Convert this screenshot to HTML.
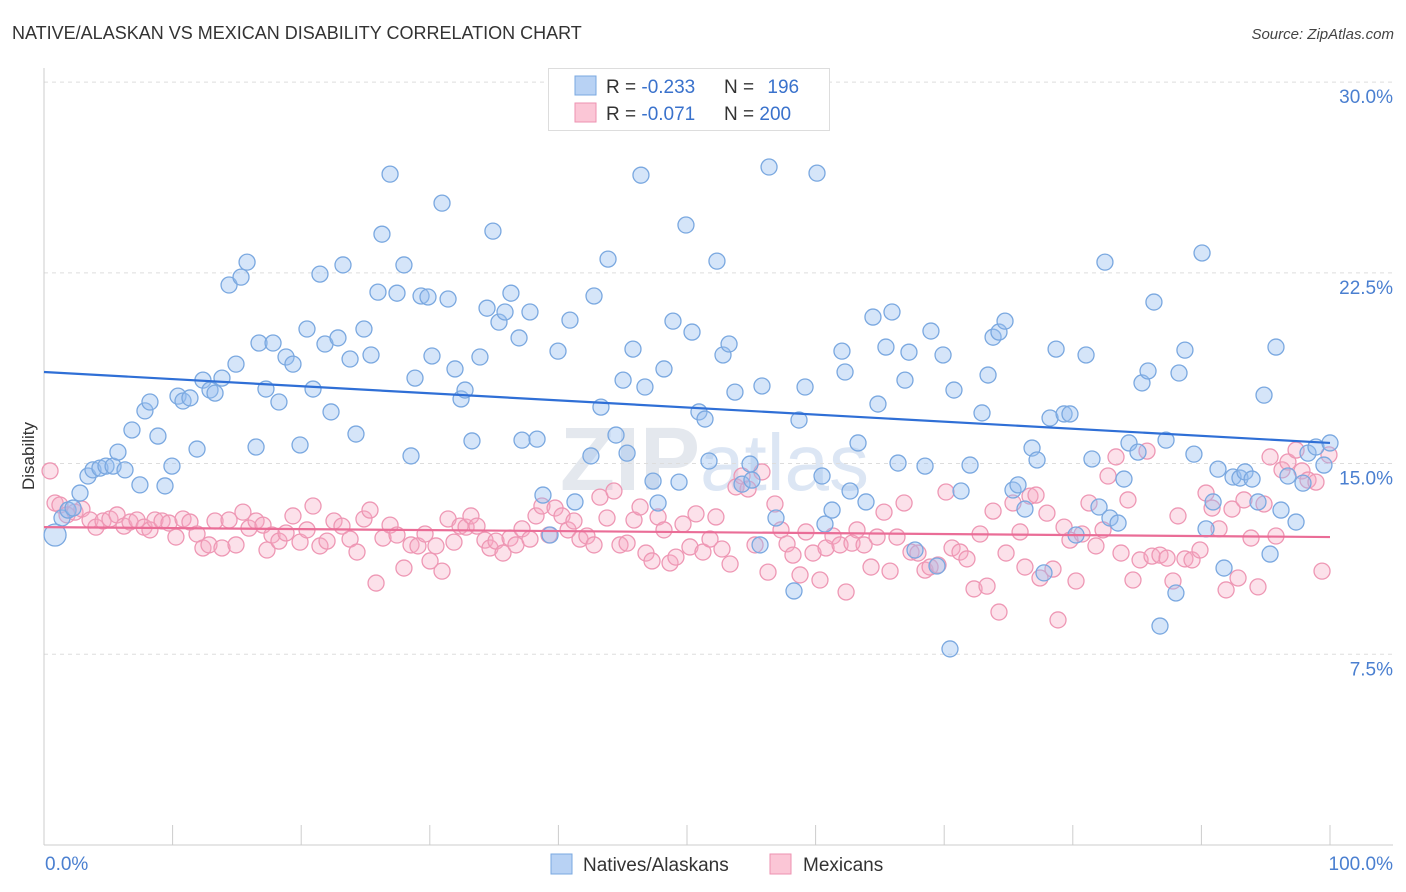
<!DOCTYPE html>
<html><head><meta charset="utf-8"><style>
body{margin:0;background:#fff;font-family:"Liberation Sans",sans-serif;}
svg{display:block}
</style></head><body>
<svg id="chart" width="1406" height="892" font-family="Liberation Sans, sans-serif">
<text x="12" y="39" font-size="18" fill="#333">NATIVE/ALASKAN VS MEXICAN DISABILITY CORRELATION CHART</text>
<text x="1394" y="39" font-size="15" fill="#444" font-style="italic" text-anchor="end">Source: ZipAtlas.com</text>
<text x="560" y="490" font-size="90" fill="#e4e8ee" font-weight="bold">ZIP<tspan fill="#dce6f4" font-weight="normal" font-size="80">atlas</tspan></text>
<g id="grid"></g>
<g id="axes"></g>
<g id="pts"></g>
<g id="trend"></g>
<text transform="translate(34,456) rotate(-90)" font-size="17" fill="#333" text-anchor="middle">Disability</text>
<g>
<rect x="548.5" y="68.5" width="281" height="62" fill="#fff" stroke="#ddd"/>
<rect x="575" y="76" width="21" height="19" fill="#b8d2f4" stroke="#7aa8e0"/>
<rect x="575" y="103" width="21" height="19" fill="#fbc6d6" stroke="#ee92b0"/>
<text x="606" y="93" font-size="19" fill="#333">R = <tspan fill="#3a72cc">-0.233</tspan></text>
<text x="724" y="93" font-size="19" fill="#333">N = <tspan fill="#3a72cc" dx="8">196</tspan></text>
<text x="606" y="120" font-size="19" fill="#333">R = <tspan fill="#3a72cc">-0.071</tspan></text>
<text x="724" y="120" font-size="19" fill="#333">N = <tspan fill="#3a72cc">200</tspan></text>
</g>
<g>
<rect x="551" y="854" width="21" height="20" fill="#b8d2f4" stroke="#7aa8e0"/>
<text x="583" y="871" font-size="19" fill="#333">Natives/Alaskans</text>
<rect x="770" y="854" width="21" height="20" fill="#fbc6d6" stroke="#ee92b0"/>
<text x="803" y="871" font-size="19" fill="#333">Mexicans</text>
</g>
</svg>
<script>
const yTicks=[7.5,15,22.5,30];
const yTickLabels=["7.5%","15.0%","22.5%","30.0%"];
const xTicks=[0,10,20,30,40,50,60,70,80,90,100];
const blueX=[0.86,1.40,1.87,2.26,2.80,3.42,3.81,4.35,4.82,5.37,5.75,6.30,6.84,7.46,7.85,8.24,8.86,9.41,9.95,10.42,10.81,11.35,11.90,12.36,12.91,13.30,13.84,14.39,14.93,15.32,15.79,16.49,16.72,17.26,17.81,18.27,18.82,19.36,19.91,20.45,20.92,21.46,21.85,22.32,22.86,23.25,23.80,24.26,24.88,25.43,25.97,26.28,26.91,27.45,27.99,28.54,28.85,29.32,29.86,30.17,30.95,31.42,31.96,32.43,32.74,33.28,33.90,34.45,34.91,35.38,35.85,36.31,36.94,37.17,37.79,38.34,38.80,39.35,39.97,40.90,41.29,42.53,42.77,43.31,43.86,44.48,45.03,45.34,45.80,46.42,46.73,47.36,47.75,48.21,48.91,49.38,49.92,50.39,50.93,51.40,51.71,52.33,52.80,53.27,53.73,54.28,54.90,55.05,55.68,55.83,56.38,56.92,58.32,58.71,59.18,60.11,60.50,60.73,61.28,62.05,62.29,62.68,63.30,63.92,64.46,64.85,65.47,65.94,66.41,66.95,67.26,67.73,68.51,68.97,69.44,69.91,70.45,70.76,71.31,72.01,72.94,73.41,73.80,74.26,74.73,75.35,75.74,76.28,76.83,77.22,77.76,78.23,78.70,79.32,79.78,80.25,81.03,81.49,82.04,82.50,82.89,83.52,83.98,84.37,85.07,85.38,85.85,86.31,86.78,87.25,88.02,88.26,88.72,89.42,90.05,90.36,90.91,91.29,91.76,92.46,93.00,93.39,93.94,94.40,94.87,95.34,95.80,96.19,96.73,97.36,97.90,98.29,98.91,99.53,100.0];
const blueY=[12.19,12.86,13.17,13.25,13.84,14.51,14.75,14.82,14.90,14.90,15.45,14.75,16.32,14.16,17.07,17.42,16.08,14.12,14.90,17.65,17.46,17.58,15.57,18.28,17.89,17.77,18.36,22.02,18.91,22.33,22.92,15.65,19.74,17.93,19.74,17.42,19.19,18.91,15.73,20.29,17.93,22.45,19.70,17.03,19.94,22.81,19.11,16.16,20.29,19.27,21.74,24.02,26.38,21.70,22.81,15.30,18.36,21.59,21.55,19.23,25.24,21.47,18.72,17.54,17.89,15.89,19.19,21.11,24.14,20.56,20.96,21.70,19.94,15.92,20.96,15.96,13.76,12.19,19.42,20.64,13.49,15.30,21.59,17.22,23.04,16.12,18.28,15.41,19.50,26.34,18.01,14.31,13.45,18.72,20.60,14.27,24.38,20.17,17.03,16.75,15.10,22.96,19.27,19.70,17.81,14.19,14.98,14.35,11.80,18.05,26.66,12.86,9.99,16.71,18.01,26.42,14.51,12.62,13.17,19.42,18.60,13.92,15.81,13.49,20.76,17.34,19.58,20.96,15.02,18.28,19.38,11.60,14.90,20.21,10.97,19.27,7.71,17.89,13.92,14.94,16.99,18.48,19.97,20.17,20.60,13.96,14.16,13.21,15.61,15.14,10.70,16.79,19.50,16.95,16.95,12.19,19.27,15.18,13.29,22.92,12.86,12.66,14.39,15.81,15.45,18.17,18.64,21.35,8.61,15.92,9.91,18.56,19.46,15.37,23.28,12.43,13.49,14.78,10.89,14.47,14.43,14.67,14.39,13.49,17.69,11.44,19.58,13.17,14.51,12.70,14.23,15.41,15.65,14.94,15.81];
const pinkX=[0.47,0.86,1.24,1.79,2.41,2.95,3.58,4.04,4.59,5.13,5.68,6.22,6.69,7.23,7.78,8.24,8.63,9.18,9.72,10.26,10.81,11.35,11.90,12.36,12.83,13.30,13.84,14.39,14.93,15.47,15.94,16.49,17.03,17.34,17.73,18.27,18.82,19.36,19.91,20.45,20.92,21.46,22.01,22.55,23.17,23.80,24.34,24.88,25.35,25.82,26.36,26.91,27.45,27.99,28.54,29.08,29.63,30.02,30.48,30.95,31.42,31.88,32.35,32.82,33.20,33.67,34.29,34.68,35.15,35.69,36.24,36.70,37.17,37.79,38.26,38.72,39.27,39.74,40.28,40.75,41.21,41.68,42.22,42.77,43.23,43.78,44.32,44.79,45.34,45.88,46.35,46.81,47.28,47.75,48.21,48.68,49.14,49.69,50.23,50.70,51.24,51.79,52.25,52.72,53.35,53.81,54.28,54.75,55.29,55.83,56.30,56.84,57.31,57.78,58.24,58.79,59.25,59.80,60.34,60.81,61.35,61.90,62.37,62.83,63.22,63.77,64.31,64.78,65.32,65.79,66.33,66.88,67.42,67.96,68.51,68.90,69.52,70.14,70.61,71.23,71.77,72.32,72.79,73.33,73.80,74.26,74.81,75.35,75.90,76.28,76.67,77.14,77.45,77.99,78.46,78.85,79.32,79.78,80.25,80.72,81.26,81.80,82.35,82.74,83.36,83.75,84.29,84.68,85.23,85.77,86.16,86.78,87.33,87.79,88.18,88.72,89.27,89.89,90.36,90.83,91.37,91.92,92.38,92.85,93.31,93.86,94.40,94.87,95.34,95.80,96.27,96.73,97.36,97.82,98.29,98.91,99.38,99.92];
const pinkY=[14.71,13.45,13.37,12.98,13.09,13.21,12.78,12.50,12.74,12.82,12.98,12.54,12.70,12.78,12.50,12.39,12.78,12.74,12.66,12.11,12.82,12.70,12.23,11.68,11.80,12.74,11.68,12.78,11.80,13.09,12.46,12.74,12.58,11.60,12.19,11.95,12.27,12.94,11.91,12.39,13.33,11.76,11.95,12.74,12.54,12.03,11.52,12.82,13.17,10.30,12.07,12.58,12.19,10.89,11.80,11.76,12.23,11.17,11.76,10.77,12.82,11.91,12.54,12.50,12.94,12.54,11.99,11.68,11.95,11.48,12.07,11.80,12.43,12.03,12.94,13.33,12.19,13.25,12.94,12.39,12.74,12.03,12.15,11.80,13.68,12.86,13.92,11.80,11.87,12.78,13.29,11.48,11.17,12.90,12.39,11.09,11.32,12.62,11.72,13.02,11.52,12.03,12.90,11.64,11.05,14.08,14.51,14.00,11.80,14.67,10.73,13.41,12.39,11.84,11.40,10.62,12.31,11.48,10.42,11.68,12.15,11.80,9.95,11.87,12.39,11.80,10.93,12.11,13.09,10.77,12.11,13.45,11.52,11.48,10.81,10.93,11.01,13.88,11.68,11.52,11.25,10.07,12.23,10.18,13.13,9.16,11.48,13.45,12.31,10.93,13.72,13.76,10.50,13.05,10.85,8.85,12.50,11.99,10.38,12.23,13.45,11.76,12.39,14.51,15.26,11.48,13.57,10.42,11.21,15.49,11.36,11.40,11.28,10.38,12.94,11.25,11.21,11.60,13.84,13.25,12.43,10.03,13.21,10.50,13.57,12.07,10.15,13.41,15.26,12.15,14.75,15.06,15.53,14.71,14.35,14.27,10.77,15.34];
const blueTrend=[18.60,15.81];
const pinkTrend=[12.50,12.11];

const NS="http://www.w3.org/2000/svg";
const X0=44,X1=1330,YB=845,PXPER=25.43;
const sx=v=>X0+(X1-X0)*v/100;
const sy=v=>YB-v*PXPER;
function mk(tag,attrs,parent){const e=document.createElementNS(NS,tag);for(const k in attrs)e.setAttribute(k,attrs[k]);parent.appendChild(e);return e;}
const grid=document.getElementById('grid'),axes=document.getElementById('axes'),pts=document.getElementById('pts'),trend=document.getElementById('trend');
yTicks.forEach((t,i)=>{
  const l=mk('line',{x1:X0,x2:1393,y1:sy(t),y2:sy(t),stroke:'#ddd','stroke-dasharray':'4,4'},grid);
  
  
  const tx=mk('text',{x:1393,y:sy(t)+21,'font-size':19,fill:'#4a7fd0','text-anchor':'end'},axes);
  tx.textContent=yTickLabels[i];
  
  
});
const yl=mk('line',{x1:X0,x2:X0,y1:68,y2:YB,stroke:'#ccc'},axes);


const xl=mk('line',{x1:X0,x2:1393,y1:YB,y2:YB,stroke:'#ccc'},axes);


xTicks.forEach(t=>{
  const l=mk('line',{x1:sx(t),x2:sx(t),y1:YB-20,y2:YB,stroke:'#ccc'},axes);
  
  
});
const x0l=mk('text',{x:45,y:870,'font-size':19,fill:'#4a7fd0'},axes);x0l.textContent='0.0%';


const x1l=mk('text',{x:1393,y:870,'font-size':19,fill:'#4a7fd0','text-anchor':'end'},axes);x1l.textContent='100.0%';


pinkX.forEach((v,i)=>{
  const c=mk('circle',{cx:sx(v),cy:sy(pinkY[i]),r:8,fill:'rgba(246,170,195,0.35)',stroke:'#ee97b4','stroke-width':1.3},pts);
  
  
});
blueX.forEach((v,i)=>{
  const c=mk('circle',{cx:sx(v),cy:sy(blueY[i]),r:i===0?11:8,fill:'rgba(150,190,240,0.4)',stroke:'#7aa8e0','stroke-width':1.3},pts);
  
  
});
const bt=mk('line',{x1:sx(0),y1:sy(blueTrend[0]),x2:sx(100),y2:sy(blueTrend[1]),stroke:'#2f6fd6','stroke-width':2.2},trend);


const pt=mk('line',{x1:sx(0),y1:sy(pinkTrend[0]),x2:sx(100),y2:sy(pinkTrend[1]),stroke:'#ea6d97','stroke-width':2.2},trend);


</script>
</body></html>
